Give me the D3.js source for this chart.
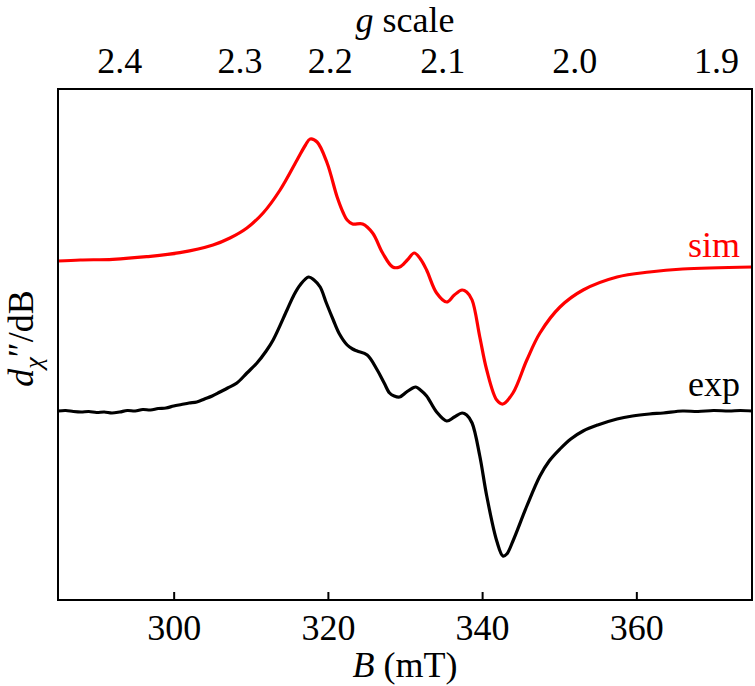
<!DOCTYPE html>
<html>
<head>
<meta charset="utf-8">
<script src="https://cdn.jsdelivr.net/npm/d3@7"></script>
<style>
  body { margin: 0; background: #fff; }
  svg text { font-family: "Liberation Serif", "DejaVu Serif", "Times New Roman", Times, serif; }
</style>
</head>
<body>
<div id="chart"></div>
<script>
// field axis (mT)
const fieldDomain = [285, 375];
const fieldTicks = [300, 320, 340, 360];

// g scale labels and where they sit on the field axis
const gLabels = ["2.4", "2.3", "2.2", "2.1", "2.0", "1.9"];
const gLabelField = [293.0, 308.6, 320.3, 334.9, 352.0, 370.4];

// simulated spectrum
const simField = [285.0, 287.9, 292.1, 296.5, 300.8, 305.1, 307.3, 309.5, 311.6, 313.8,
  316.0, 317.1, 317.7, 318.6, 319.9, 321.2, 322.0, 322.5, 323.2, 324.5,
  325.8, 327.1, 328.4, 329.3, 330.3, 331.2, 332.0, 332.8, 334.1, 335.4,
  336.4, 337.4, 338.0, 338.7, 339.7, 340.6, 341.9, 342.7, 344.0, 345.8,
  347.5, 350.1, 353.1, 357.5, 361.7, 366.0, 375.0];
const simSignal = [0, 1, 1.7, 4.3, 8.3, 16, 23, 33, 48, 71,
  101, 116, 122, 119, 98, 64, 48, 41, 37, 37,
  28, 8, -6, -6, 1, 8, 2, -9, -32, -41,
  -34, -29, -31, -39, -76, -109, -139, -143, -132, -99,
  -72, -46, -29, -16, -11, -8, -6];

// experimental spectrum
const expField = [285.0, 286.0, 287.0, 288.0, 289.0, 290.0, 291.0, 292.0, 293.0, 294.0,
  295.0, 296.0, 297.0, 298.0, 299.0, 300.0, 301.0, 302.0, 303.0, 304.0,
  305.0, 306.0, 307.0, 308.2, 309.5, 310.8, 312.0, 312.9, 314.7, 315.6,
  316.4, 317.5, 318.2, 319.0, 319.8, 320.7, 321.5, 322.5, 323.2, 323.8,
  325.1, 326.4, 327.3, 328.0, 328.6, 329.3, 330.2, 331.0, 331.4, 332.0,
  332.8, 334.1, 335.4, 336.4, 337.4, 338.0, 338.7, 339.7, 340.6, 341.9,
  342.7, 343.2, 344.0, 345.8, 347.5, 348.7, 350.1, 351.5, 353.1, 355.0,
  357.5, 359.5, 361.7, 363.5, 366.0, 368.0, 370.0, 372.0, 373.5, 375.0];
const expSignal = [0, 0.5, -0.5, -1, -0.5, -1.5, -1, -2, -1, 0.5,
  0, 1.5, 1, 2.5, 3, 5, 6.5, 8, 9, 12,
  15, 19, 23, 28, 38, 48, 60, 71, 101, 116,
  126, 134, 131, 124, 108, 91, 77, 66, 62, 60,
  56, 41, 28, 18, 15, 14, 19, 23, 24, 21,
  15, -1, -10, -6, -2, -4, -12, -45, -85, -130,
  -145, -143, -130, -95, -65, -50, -38, -28, -20, -14,
  -8, -5, -3, -2, 0, -0.5, 0.5, 0, 0.5, 0];

const simOffset = 150;
const serif = '"Liberation Serif", "DejaVu Serif", serif';

const W = 755, H = 686;
const margin = { top: 89, right: 3, bottom: 86, left: 58 };
const width = W - margin.left - margin.right;
const height = H - margin.top - margin.bottom;

const svg = d3.select("#chart").append("svg")
    .attr("width", W)
    .attr("height", H)
    .style("font-family", serif);

const g = svg.append("g").attr("transform", `translate(${margin.left},${margin.top})`);

const x = d3.scaleLinear().domain(fieldDomain).range([0, width]);
const y = d3.scaleLinear().domain([-189, 322]).range([height, 0]);

const line = d3.line()
    .x(d => x(d[0]))
    .y(d => y(d[1]))
    .curve(d3.curveCatmullRom.alpha(0.5));

const simData = simField.map((b, i) => [b, simSignal[i] + simOffset]);
const expData = expField.map((b, i) => [b, expSignal[i]]);

g.append("path")
    .datum(expData)
    .attr("fill", "none")
    .attr("stroke", "#000")
    .attr("stroke-width", 3.2)
    .attr("stroke-linejoin", "round")
    .attr("d", line);

g.append("path")
    .datum(simData)
    .attr("fill", "none")
    .attr("stroke", "#ff0000")
    .attr("stroke-width", 3.2)
    .attr("stroke-linejoin", "round")
    .attr("d", line);

// frame
g.append("rect")
    .attr("width", width)
    .attr("height", height)
    .attr("fill", "none")
    .attr("stroke", "#000")
    .attr("stroke-width", 2);

// bottom axis: inward ticks
const xAxis = g.append("g")
    .attr("transform", `translate(0,${height})`)
    .call(d3.axisBottom(x).tickValues(fieldTicks).tickSizeInner(-8).tickSizeOuter(0).tickPadding(0));
xAxis.attr("font-family", null);
xAxis.select(".domain").remove();
xAxis.selectAll(".tick line").attr("stroke-width", 2);
xAxis.selectAll(".tick text")
    .attr("y", 40)
    .attr("dy", null)
    .attr("font-size", 36)
    .style("font-family", serif)
    .attr("fill", "#000");

g.append("text")
    .attr("x", width / 2)
    .attr("y", height + 77)
    .attr("text-anchor", "middle")
    .attr("font-size", 36)
    .html('<tspan font-style="italic">B</tspan> (mT)');

// top g scale labels
g.selectAll(".glabel")
    .data(gLabels)
    .join("text")
    .attr("class", "glabel")
    .attr("x", (d, i) => x(gLabelField[i]))
    .attr("y", -16)
    .attr("text-anchor", "middle")
    .attr("font-size", 36)
    .text(d => d);

g.append("text")
    .attr("x", width / 2)
    .attr("y", -57)
    .attr("text-anchor", "middle")
    .attr("font-size", 36)
    .html('<tspan font-style="italic">g</tspan> scale');

// y label
svg.append("text")
    .attr("transform", `translate(33,${margin.top + height / 2 - 6}) rotate(-90)`)
    .attr("text-anchor", "middle")
    .attr("font-size", 36)
    .html('<tspan font-style="italic">d</tspan><tspan font-style="italic" font-size="26" dy="9">χ</tspan><tspan dy="-9">″/dB</tspan>');

// series labels
g.append("text")
    .attr("x", width - 12)
    .attr("y", y(simOffset) - 4)
    .attr("text-anchor", "end")
    .attr("font-size", 36)
    .attr("fill", "#ff0000")
    .text("sim");

g.append("text")
    .attr("x", width - 12)
    .attr("y", y(0) - 15)
    .attr("text-anchor", "end")
    .attr("font-size", 36)
    .attr("fill", "#000")
    .text("exp");
</script>
</body>
</html>
